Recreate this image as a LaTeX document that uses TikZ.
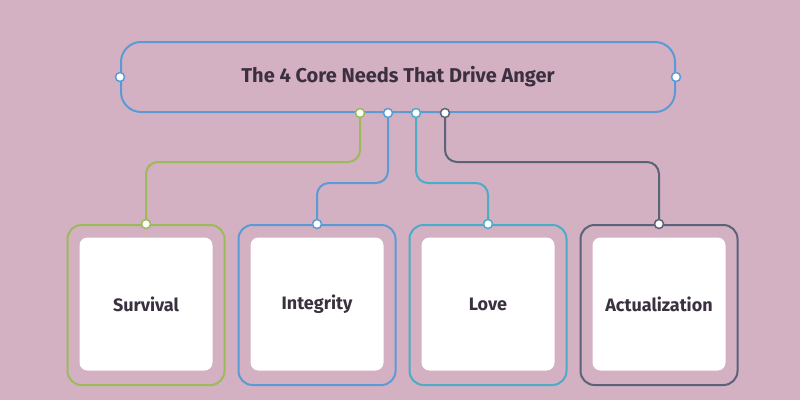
\documentclass[tikz,border=0pt]{standalone}
\usepackage{fontspec}
\setmainfont{Fira Sans}
\usetikzlibrary{positioning}
\definecolor{bgpink}{HTML}{D4B0C3}
\definecolor{cgreen}{HTML}{9BBB59}
\definecolor{cblue}{HTML}{5B9BD5}
\definecolor{cteal}{HTML}{4BACC6}
\definecolor{cdark}{HTML}{5A6378}
\definecolor{ctext}{HTML}{3B3040}
\tikzset{
  dot/.style={circle, draw=#1, fill=white, line width=1.5pt, inner sep=0pt, minimum size=9pt},
  outerbox/.style={draw=#1, line width=2pt, rounded corners=14pt, minimum width=157pt, minimum height=160pt},
  innerbox/.style={fill=white, rounded corners=8pt, minimum width=133pt, minimum height=133pt, text=ctext,
    font=\fontsize{18}{20}\selectfont\bfseries},
  wire/.style={draw=#1, line width=2pt, rounded corners=12pt}
}
\begin{document}
\begin{tikzpicture}[x=1pt,y=-1pt]
  \fill [bgpink] (0,0) rectangle (800,400) ;
  \useasboundingbox (0,0) rectangle (800,400) ;

  % title
  \node [draw=cblue, line width=2pt, rounded corners=20pt, minimum width=554pt, minimum height=70pt,
         text=ctext, font=\fontsize{20}{22}\selectfont\bfseries] (title) at (398,77) {The 4 Core Needs That Drive Anger} ;

  % boxes
  \foreach \name/\x/\col/\txt in {surv/146/cgreen/Survival, integ/317/cblue/Integrity, love/488/cteal/Love, actu/659/cdark/Actualization} {
    \node [outerbox=\col] (\name) at (\x,305) {} ;
    \node [innerbox] (\name in) at (\x,304) {\txt} ;
  }

  % wires
  \coordinate (g1) at (360,113) ;
  \coordinate (b1) at (388,113) ;
  \coordinate (t1) at (416,113) ;
  \coordinate (d1) at (445,113) ;
  \path [wire=cgreen] (g1) |- (146,162) -- (surv.north) ;
  \path [wire=cblue] (b1) |- (317,183) -- (integ.north) ;
  \path [wire=cteal] (t1) |- (488,183) -- (love.north) ;
  \path [wire=cdark] (d1) |- (659,162) -- (actu.north) ;

  % dots
  \node [dot=cblue] (tl) at (title.west) {} ;
  \node [dot=cblue] (tr) at (title.east) {} ;
  \node [dot=cgreen] at (g1) {} ; \node [dot=cblue] at (b1) {} ;
  \node [dot=cteal] at (t1) {} ; \node [dot=cdark] at (d1) {} ;
  \node [dot=cgreen] at (surv.north) {} ; \node [dot=cblue] at (integ.north) {} ;
  \node [dot=cteal] at (love.north) {} ; \node [dot=cdark] at (actu.north) {} ;
\end{tikzpicture}
\end{document}
